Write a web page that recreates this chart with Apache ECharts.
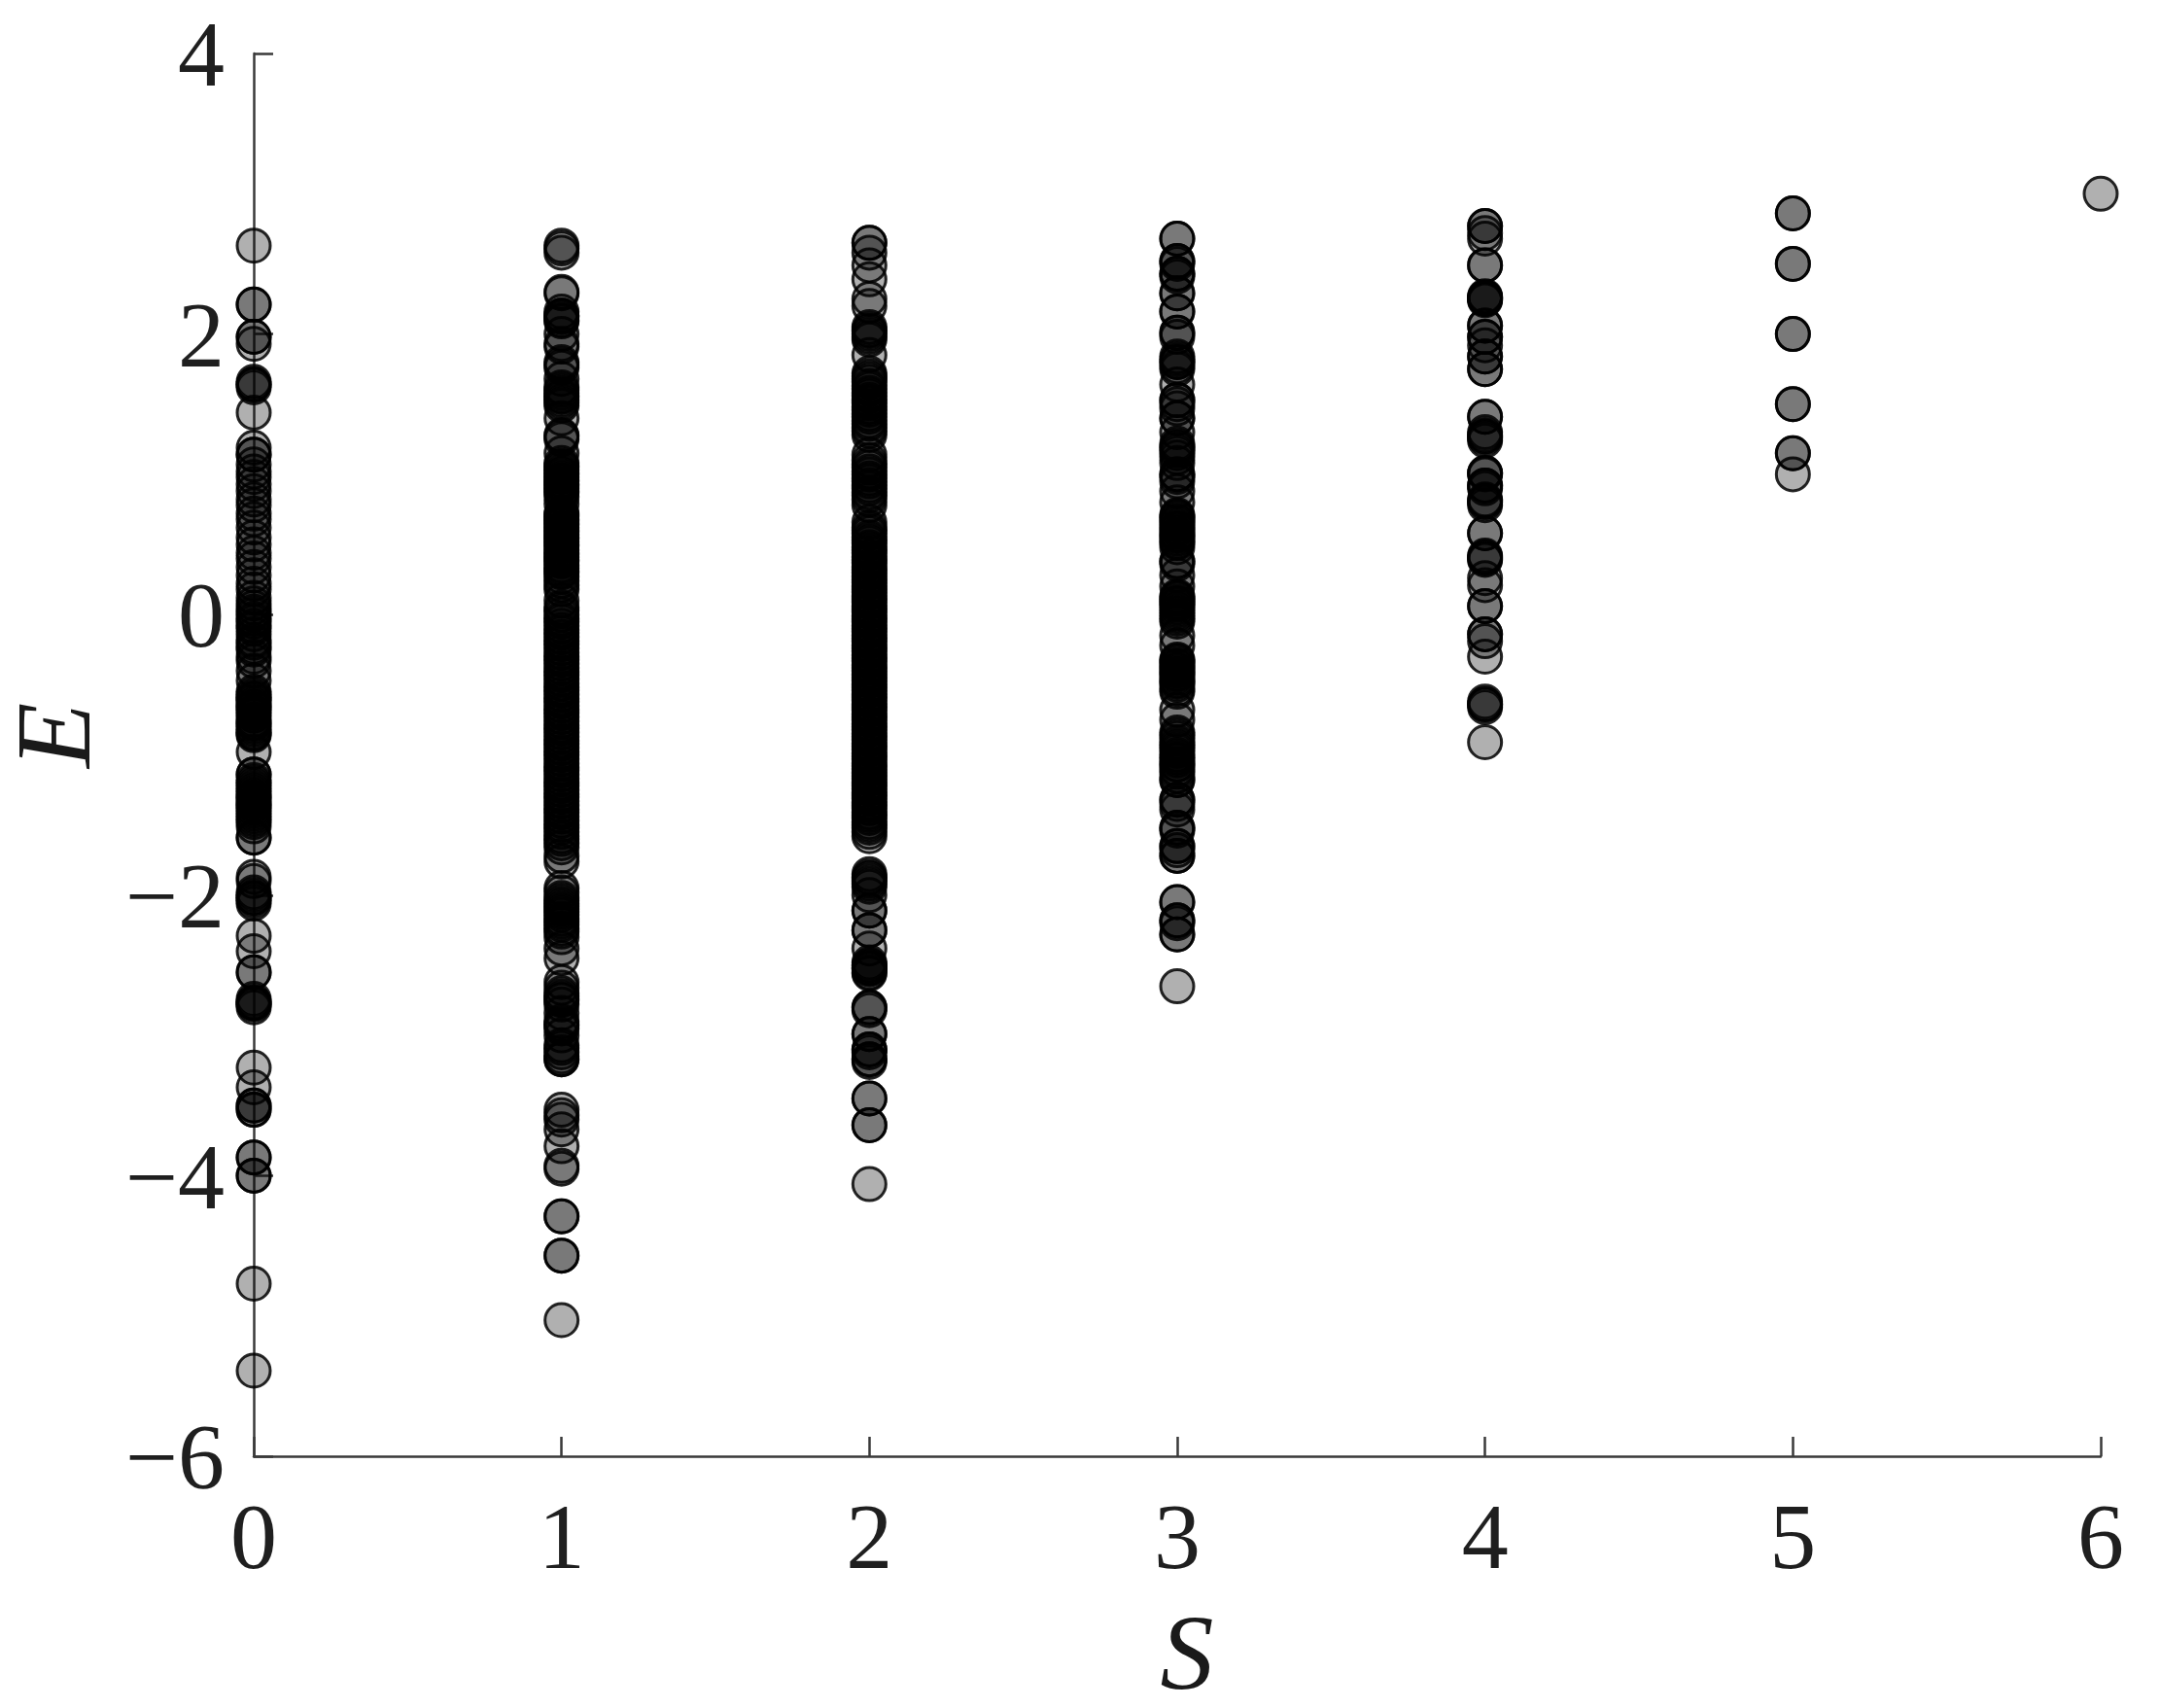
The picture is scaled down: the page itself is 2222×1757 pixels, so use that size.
<!DOCTYPE html>
<html>
<head>
<meta charset="utf-8">
<title>E vs S</title>
<script src="https://cdn.jsdelivr.net/npm/echarts@6/dist/echarts.min.js"></script>
<style>
  html, body { margin: 0; padding: 0; background: #fff; }
  #chart { width: 2222px; height: 1757px; }
</style>
</head>
<body>
<div id="chart"></div>
<script>
// E values per S column; repeats are overlapping points
const e0 = [2.63, 2.21, 2.21, 1.98, 1.98, 1.93, 1.66, 1.64, 1.64, 1.62, 1.44,
  1.19, 1.14, 1.14, 1.07, 1.02, 0.98, 0.93, 0.88, 0.82, 0.78, 0.72, 0.68, 0.62, 0.55, 0.5, 0.44, 0.4,
  0.34, 0.28, 0.22, 0.18, 0.12, 0.08, 0.05, 0.02, 0, -0.03, -0.05, -0.08, -0.1, -0.14, -0.18, -0.2,
  -0.23, -0.25, -0.3, -0.33, -0.4, -0.47, -0.55, -0.57, -0.59, -0.6, -0.61, -0.63, -0.65, -0.66, -0.68, -0.7,
  -0.72, -0.75, -0.77, -0.78, -0.8, -0.82, -0.84, -0.85, -0.86, -0.98, -1.14, -1.14, -1.18, -1.2, -1.22, -1.24,
  -1.26, -1.28, -1.3, -1.31, -1.33, -1.35, -1.36, -1.38, -1.4, -1.42, -1.44, -1.46, -1.48, -1.51, -1.59, -1.59,
  -1.87, -1.9, -1.98, -2.0, -2.02, -2.02, -2.04, -2.06, -2.29, -2.4, -2.55, -2.55,
  -2.74, -2.76, -2.77, -2.77, -2.78, -2.8, -3.23, -3.37, -3.5, -3.5, -3.53, -3.53,
  -3.87, -3.87, -4.0, -4.0, -4.77, -5.39];

const e1 = [2.63, 2.61, 2.58, 2.3, 2.29, 2.16, 2.13, 2.13, 2.12, 2.1, 2.09, 2.0, 1.93, 1.91, 1.8, 1.78, 1.76,
  1.68, 1.62, 1.6, 1.58, 1.56, 1.55, 1.53, 1.51, 1.49, 1.4, 1.28, 1.27, 1.25, 1.15,
  1.08, 1.06, 1.05, 1.03, 1.01, 1, 0.98, 0.96, 0.95, 0.93, 0.92, 0.9, 0.88, 0.87, 0.84, 0.79, 0.72, 0.71, 0.7, 0.68, 0.67,
  0.65, 0.64, 0.62, 0.6, 0.59, 0.57, 0.55, 0.54,
  0.52, 0.5, 0.49, 0.46, 0.44, 0.43, 0.41, 0.39, 0.38, 0.35, 0.33, 0.31, 0.3, 0.27, 0.24, 0.21, 0.18, 0.1, 0.05, 0.03, 0, -0.03,
  -0.05, -0.08, -0.11, -0.13, -0.16, -0.19, -0.21, -0.24, -0.27, -0.3, -0.32, -0.35, -0.38, -0.41,
  -0.43, -0.46, -0.49, -0.52, -0.54, -0.57, -0.6, -0.62, -0.65, -0.68, -0.7, -0.73, -0.76, -0.79, -0.81,
  -0.84, -0.87, -0.9, -0.92, -0.95, -0.98, -1, -1.03, -1.06, -1.09, -1.11, -1.14, -1.17, -1.2, -1.22,
  -1.25, -1.28, -1.3, -1.33, -1.36, -1.39, -1.41, -1.44, -1.47, -1.5, -1.52, -1.55, -1.58, -1.6, -1.63, -1.66,
  -1.72, -1.76, -1.95, -1.98, -2.02, -2.04, -2.06, -2.08, -2.1, -2.12, -2.14, -2.17, -2.19, -2.21, -2.24, -2.26, -2.3, -2.38, -2.45,
  -2.62, -2.66, -2.7, -2.72, -2.74, -2.75, -2.78, -2.84, -2.9, -2.92, -2.93, -2.95, -3.0, -3.07, -3.09, -3.12, -3.15, -3.17, -3.17,
  -3.53, -3.57, -3.6, -3.67, -3.79, -3.93, -3.95, -4.29, -4.29, -4.57, -4.57, -5.03];

const e2 = [2.65, 2.65, 2.58, 2.49, 2.39, 2.25, 2.2, 2.05, 2.03, 2.02, 2.0, 1.98, 1.96, 1.85,
  1.72, 1.7, 1.68, 1.66, 1.63, 1.61, 1.58, 1.56, 1.53, 1.51, 1.48, 1.46, 1.43, 1.41, 1.38, 1.36, 1.33, 1.31, 1.28,
  1.14, 1.1, 1.07, 1.05, 1.02, 1, 0.97, 0.95, 0.92, 0.9, 0.87, 0.85, 0.82, 0.78,
  0.66, 0.62, 0.6, 0.58, 0.55, 0.53, 0.51, 0.48, 0.46, 0.44, 0.41, 0.39, 0.37, 0.34, 0.32, 0.3, 0.27, 0.25,
  0.23, 0.2, 0.18, 0.16, 0.13, 0.11, 0.09, 0.06, 0.04, 0.02, -0.01, -0.03, -0.05, -0.08, -0.1, -0.12,
  -0.15, -0.17, -0.19, -0.22, -0.24, -0.26, -0.29, -0.31, -0.33, -0.36, -0.38, -0.4, -0.43, -0.45, -0.47,
  -0.5, -0.52, -0.54, -0.57, -0.59, -0.61, -0.64, -0.66, -0.68, -0.71, -0.73, -0.75, -0.78, -0.8, -0.82,
  -0.85, -0.87, -0.89, -0.92, -0.94, -0.96, -0.99, -1.01, -1.03, -1.06, -1.08, -1.1, -1.13, -1.15, -1.17,
  -1.2, -1.22, -1.24, -1.27, -1.29, -1.31, -1.34, -1.36, -1.38, -1.41, -1.43, -1.45, -1.48, -1.5, -1.52, -1.55, -1.58,
  -1.85, -1.87, -1.88, -1.9, -1.92, -1.94, -2.0, -2.11, -2.11, -2.25, -2.25, -2.38,
  -2.48, -2.5, -2.5, -2.52, -2.52, -2.53, -2.55, -2.56, -2.8, -2.8, -2.82, -2.99, -2.99,
  -3.1, -3.1, -3.12, -3.17, -3.17, -3.19, -3.45, -3.45, -3.64, -3.64, -4.06];

const e3 = [2.68, 2.68, 2.52, 2.52, 2.5, 2.43, 2.43, 2.41, 2.29, 2.29, 2.16, 2.16, 2.01, 2.01, 1.98,
  1.84, 1.82, 1.8, 1.8, 1.77, 1.75, 1.64, 1.53, 1.53, 1.5, 1.47, 1.4, 1.4, 1.3, 1.22, 1.2, 1.19, 1.17, 1.15, 1.12,
  1.08, 1.0, 1.0, 0.98, 0.95, 0.88, 0.8, 0.71, 0.7, 0.69, 0.67, 0.66, 0.64, 0.62, 0.61, 0.59, 0.57, 0.56, 0.54, 0.52, 0.51, 0.48,
  0.38, 0.38, 0.36, 0.28, 0.2, 0.13, 0.12, 0.11, 0.09, 0.08, 0.07, 0.05, 0.03, 0.01, -0.01, -0.03, -0.05, -0.15, -0.22,
  -0.32, -0.33, -0.34, -0.36, -0.37, -0.39, -0.4, -0.42, -0.43, -0.45, -0.47, -0.48, -0.5, -0.53, -0.55, -0.68, -0.75,
  -0.84, -0.86, -0.88, -0.91, -0.93, -0.95, -0.97, -1.0, -1.02, -1.04, -1.07, -1.07, -1.1, -1.12, -1.15, -1.18, -1.18,
  -1.32, -1.32, -1.35, -1.39, -1.52, -1.52, -1.54, -1.65, -1.65, -1.68, -1.72, -1.72,
  -2.05, -2.05, -2.18, -2.18, -2.2, -2.28, -2.28, -2.65];

const e4 = [2.77, 2.77, 2.72, 2.68, 2.49, 2.49, 2.27, 2.26, 2.26, 2.25, 2.25, 2.24, 2.06, 2.06, 1.98, 1.98,
  1.92, 1.84, 1.84, 1.75, 1.75, 1.41, 1.41, 1.3, 1.28, 1.27, 1.26, 1.24, 1.01, 1.01, 1.0, 0.92, 0.92, 0.9,
  0.82, 0.81, 0.8, 0.78, 0.58, 0.58, 0.42, 0.41, 0.4, 0.39, 0.26, 0.21, 0.06, 0.06, -0.14, -0.14, -0.19,
  -0.3, -0.62, -0.64, -0.64, -0.66, -0.91];

const e5 = [2.86, 2.86, 2.5, 2.5, 2, 2, 1.5, 1.5, 1.15, 1.15, 1];
const e6 = [3];

const columns = [e0, e1, e2, e3, e4, e5, e6];
const scatterData = columns.flatMap((vals, s) => vals.map(e => [s, e]));

const SERIF = '"Liberation Serif", "Times New Roman", serif';
const AXIS_COLOR = '#3a3a3a';

const chart = echarts.init(document.getElementById('chart'), null, { renderer: 'canvas' });

chart.setOption({
  animation: false,
  backgroundColor: '#fff',
  // outerBoundsMode none: v6 would otherwise squeeze the grid to fit the labels
  grid: { left: 261, right: 61, top: 55, bottom: 259, outerBoundsMode: 'none' },
  xAxis: {
    type: 'value',
    min: 0,
    max: 6,
    interval: 1,
    name: 'S',
    nameLocation: 'middle',
    nameGap: 155,
    nameTextStyle: { fontFamily: SERIF, fontStyle: 'italic', fontSize: 110, color: '#1a1a1a', padding: [0, 0, 0, 20] },
    axisLine: { onZero: false, lineStyle: { color: AXIS_COLOR, width: 2.5 } },
    axisTick: { inside: true, length: 20, lineStyle: { color: AXIS_COLOR, width: 2.5 } },
    axisLabel: { margin: 42, fontFamily: SERIF, fontSize: 96, color: '#1f1f1f', hideOverlap: false },
    splitLine: { show: false }
  },
  yAxis: {
    type: 'value',
    min: -6,
    max: 4,
    interval: 2,
    name: 'E',
    nameLocation: 'middle',
    nameGap: 143,
    nameRotate: 90,
    nameTextStyle: { fontFamily: SERIF, fontStyle: 'italic', fontSize: 110, color: '#1a1a1a', padding: [0, 0, 0, 40] },
    axisLine: { onZero: false, lineStyle: { color: AXIS_COLOR, width: 2.5 } },
    axisTick: { inside: true, length: 20, lineStyle: { color: AXIS_COLOR, width: 2.5 } },
    axisLabel: {
      margin: 30,
      hideOverlap: false,
      // rich token so the padding nudges the digits down a little
      formatter: v => '{n|' + String(v).replace('-', '\u2212') + '}',
      rich: { n: { fontFamily: SERIF, fontSize: 96, color: '#1f1f1f', padding: [16, 0, 0, 0] } }
    },
    splitLine: { show: false }
  },
  series: [{
    type: 'scatter',
    data: scatterData,
    symbol: 'circle',
    symbolSize: 34,
    clip: false,
    silent: true,
    itemStyle: { color: 'rgba(0,0,0,0.31)', borderColor: 'rgba(0,0,0,0.85)', borderWidth: 3, opacity: 1 }
  }]
});

window.addEventListener('resize', () => chart.resize());
</script>
</body>
</html>
